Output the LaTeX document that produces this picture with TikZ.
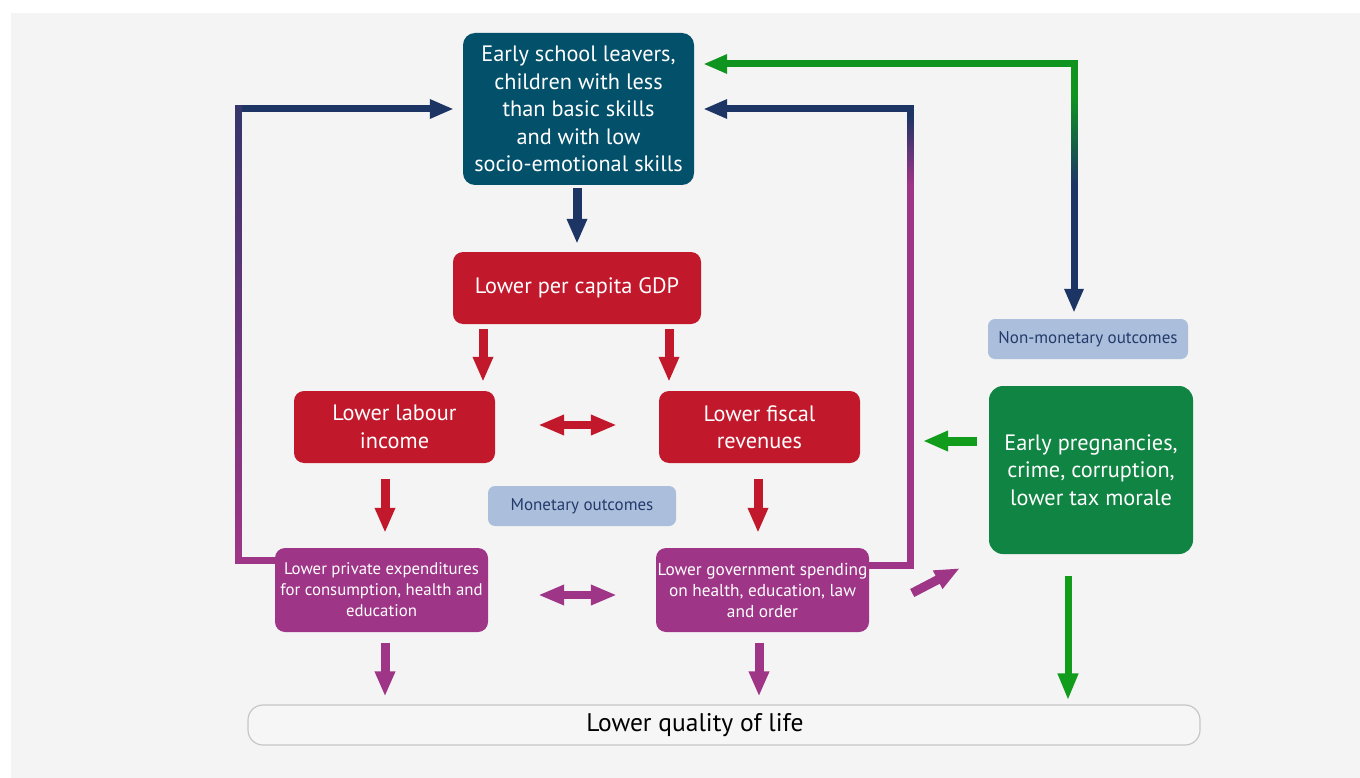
\documentclass[tikz,border=0pt]{standalone}
\usepackage{fontspec}
\setmainfont{PT Sans}
\usetikzlibrary{arrows.meta,calc}
\definecolor{bg}{HTML}{F4F4F4}
\definecolor{teal}{HTML}{03506B}
\definecolor{navy}{HTML}{1C3565}
\definecolor{redb}{HTML}{C1182B}
\definecolor{purp}{HTML}{9E3587}
\definecolor{lblue}{HTML}{ABBFDC}
\definecolor{ltext}{HTML}{233B6B}
\definecolor{gbox}{HTML}{108442}
\definecolor{garr}{HTML}{119C1C}
\definecolor{gline}{HTML}{0F9420}
\definecolor{qfill}{HTML}{F6F6F6}
\definecolor{qdraw}{HTML}{C6C6C6}
\newcommand\gradbar[5]{% x, ytop, ybottom, top colour, bottom colour
  \foreach \i in {0,...,39}{%
    \pgfmathsetmacro\gstep{(#3-#2)/40}%
    \pgfmathsetmacro\gya{#2+\gstep*\i}%
    \pgfmathsetmacro\gyb{#2+\gstep*(\i+1)+0.8}%
    \pgfmathtruncatemacro\gp{100*\i/39}%
    \fill[#5!\gp!#4] (#1-3.5,\gya) rectangle (#1+3.5,\gyb);
  }}
\begin{document}
\begin{tikzpicture}[x=1pt,y=-1pt,
  box/.style={rounded corners=10pt, inner sep=0pt, align=center, text=white},
  bigf/.style={font=\fontsize{22.3}{27.5}\selectfont},
  smallf/.style={font=\fontsize{16.8}{21}\selectfont},
  tagbox/.style={rounded corners=7pt, inner sep=0pt, fill=lblue, text=ltext, minimum width=188pt, minimum height=40pt, font=\fontsize{17}{20}\selectfont},
  thick/.style={line width=9pt, -{Triangle[width=19pt,length=25pt]}},
  dbl/.style={line width=8pt, {Triangle[width=19pt,length=26pt]}-{Triangle[width=19pt,length=26pt]}},
  lp/.style={line width=7pt},
  lphead/.style={line width=7pt, -{Triangle[width=18pt,length=24pt]}}
]
\useasboundingbox (0,0) rectangle (1360,778);
\fill[white] (0,0) rectangle (1360,778);
\fill[bg] (11,13) rectangle (1360,778);

% nodes
\node[box, bigf, fill=teal, rounded corners=12pt, minimum width=231pt, minimum height=152pt] (top) at (578.5,109)
  {Early school leavers,\\children with less\\than basic skills\\and with low\\socio-emotional skills};
\node[box, bigf, fill=redb, minimum width=248pt, minimum height=72pt] (gdp) at (577,288) {Lower per capita GDP};
\node[box, bigf, fill=redb, minimum width=201pt, minimum height=72pt] (labour) at (394.5,427) {Lower labour\\income};
\node[box, bigf, fill=redb, minimum width=201pt, minimum height=72pt] (fiscal) at (759.5,427) {Lower fiscal\\revenues};
\node[tagbox] (monetary) at (582,506) {Monetary outcomes};
\node[box, smallf, fill=purp, minimum width=213pt, minimum height=84pt] (private) at (381.5,590)
  {Lower private expenditures\\for consumption, health and\\education};
\node[box, fill=purp, minimum width=213pt, minimum height=84pt, font=\fontsize{17.3}{21}\selectfont] (gov) at (762.5,590)
  {Lower government spending\\on health, education, law\\and order};
\node[tagbox, minimum width=200pt] (nonmon) at (1088,339) {Non-monetary outcomes};
\node[box, bigf, fill=gbox, rounded corners=14pt, minimum width=204pt, minimum height=168pt] (green) at (1091,470)
  {Early pregnancies,\\crime, corruption,\\lower tax morale};
\node[rounded corners=15pt, inner sep=0pt, fill=qfill, draw=qdraw, line width=1.2pt, minimum width=952pt, minimum height=40pt,
  text=black, font=\fontsize{25.5}{30}\selectfont] (quality) at (724,725) {Lower quality of life\hspace*{58pt}};

% straight arrows
\draw[thick, navy] ([xshift=-1.5pt,yshift=-3pt]top.south) -- ([yshift=8pt]gdp.north);
\draw[thick, redb] ([xshift=-94pt,yshift=-5pt]gdp.south) -- ([xshift=88.5pt,yshift=9pt]labour.north);
\draw[thick, redb] ([xshift=92pt,yshift=-5pt]gdp.south) -- ([xshift=-90.5pt,yshift=9pt]fiscal.north);
\draw[dbl, redb] ([xshift=43pt,yshift=2pt]labour.east) -- ([xshift=-42pt,yshift=2pt]fiscal.west);
\draw[thick, redb] ([xshift=-9.5pt,yshift=-16pt]labour.south) -- ([xshift=3.5pt,yshift=15pt]private.north);
\draw[thick, redb] ([xshift=-1.5pt,yshift=-16pt]fiscal.south) -- ([xshift=-4.5pt,yshift=15pt]gov.north);
\draw[dbl, purp] ([xshift=50pt,yshift=-5pt]private.east) -- ([xshift=-39pt,yshift=-5pt]gov.west);
\draw[thick, purp] ([xshift=3.5pt,yshift=-11pt]private.south) -- ([xshift=-339pt,yshift=8pt]quality.north);
\draw[thick, purp] ([xshift=-3.5pt,yshift=-11pt]gov.south) -- ([xshift=35pt,yshift=8pt]quality.north);
\draw[thick, purp] ([xshift=43pt,yshift=-3pt]gov.east) -- ([xshift=-29pt,yshift=-14pt]green.south west);
\coordinate (gtip) at (923,441);
\draw[thick, garr] ([xshift=-12pt,yshift=29pt]green.west) -- (gtip);
\draw[line width=7pt, garr, -{Triangle[width=19pt,length=27pt]}] ([xshift=-23pt,yshift=-22pt]green.south) -- ([xshift=344pt,yshift=4pt]quality.north);

% left loop
\coordinate (Lc) at (238,109);
\draw[lp, purp] ([yshift=30pt]private.west) -| (Lc);
\draw[lphead, navy] (Lc) -- ([xshift=-9pt]top.west);
\gradbar{238}{105.5}{560}{navy!80!purp}{purp}

% right loop
\coordinate (Rc) at (910,109);
\draw[lp, purp] ([yshift=25pt]gov.east) -| (Rc);
\draw[lphead, navy] (Rc) -- ([xshift=9pt]top.east);
\fill[navy] (906.5,105.5) rectangle (913.5,116);
\gradbar{910}{115}{185}{navy}{purp}

% green/navy connector
\coordinate (Gc) at (1074,64);
\draw[lphead, gline] (Gc) -- ([xshift=9pt,yshift=45pt]top.east);
\draw[lphead, navy] (Gc) -- ([xshift=-14pt,yshift=6pt]nonmon.north);
\fill[gline] (1070.5,60.5) rectangle (1077.5,96);
\gradbar{1074}{95}{185}{gline}{navy}
\end{tikzpicture}
\end{document}
